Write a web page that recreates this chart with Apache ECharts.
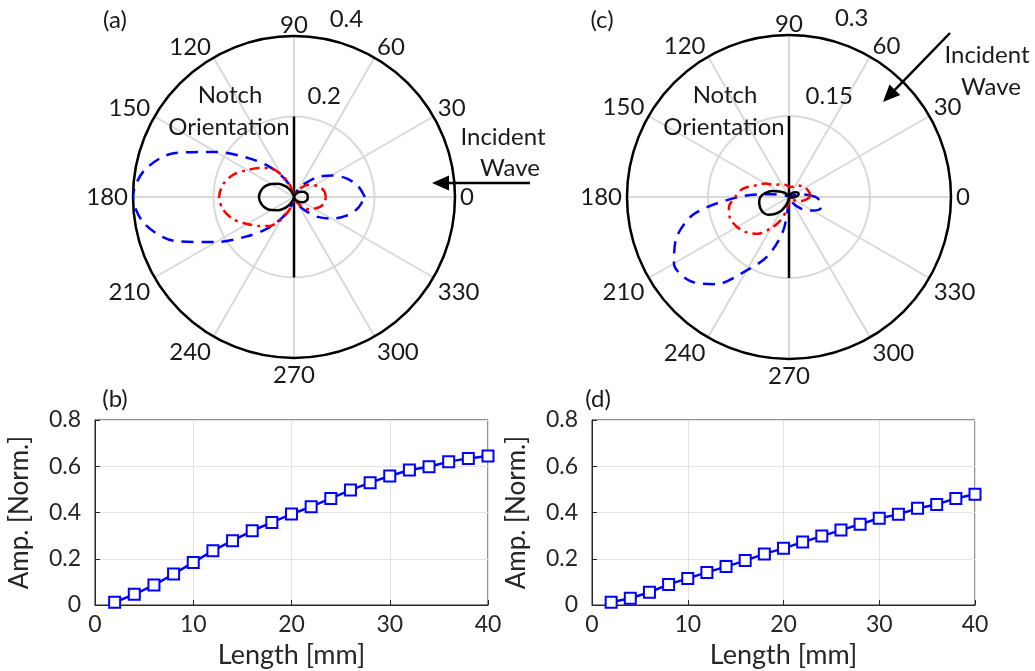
<!DOCTYPE html>
<html>
<head>
<meta charset="utf-8">
<script src="https://cdn.jsdelivr.net/npm/echarts@6/dist/echarts.min.js"></script>
<style>
html, body { margin: 0; padding: 0; background: #fff; }
#chart { width: 1035px; height: 671px; }
</style>
</head>
<body>
<div id="chart"></div>
<script>
// angles (deg) for the polar patterns
const angles = [0, 10, 20, 30, 40, 50, 60, 70, 80, 90, 100, 110, 120, 130, 140, 150, 160, 170,
  180, 190, 200, 210, 220, 230, 240, 250, 260, 270, 280, 290, 300, 310, 320, 330, 340, 350];

// (a) normal incidence
const blueA = [0.176, 0.161, 0.137, 0.107, 0.077, 0.045, 0.025, 0.008, 0.003, 0.002, 0.010, 0.032,
  0.060, 0.102, 0.152, 0.224, 0.318, 0.378, 0.400, 0.378, 0.318, 0.224, 0.152, 0.102,
  0.060, 0.032, 0.010, 0.002, 0.003, 0.008, 0.025, 0.045, 0.077, 0.107, 0.137, 0.161];
const redA = [0.079, 0.077, 0.070, 0.058, 0.047, 0.032, 0.017, 0.007, 0.002, 0.001, 0.010, 0.035,
  0.065, 0.094, 0.112, 0.134, 0.161, 0.179, 0.186, 0.179, 0.161, 0.134, 0.112, 0.094,
  0.065, 0.035, 0.010, 0.001, 0.002, 0.007, 0.017, 0.032, 0.047, 0.058, 0.070, 0.077];
const blackA = [0.034, 0.034, 0.031, 0.026, 0.020, 0.014, 0.009, 0.004, 0.001, 0.000, 0.003, 0.010,
  0.022, 0.036, 0.051, 0.065, 0.077, 0.084, 0.087, 0.084, 0.077, 0.065, 0.051, 0.036,
  0.022, 0.010, 0.003, 0.000, 0.001, 0.004, 0.009, 0.014, 0.020, 0.026, 0.031, 0.034];

// (c) oblique incidence
const blueC = [0.050, 0.028, 0.009, 0.003, 0.002, 0.001, 0.001, 0.001, 0.001, 0.001, 0.001, 0.001,
  0.001, 0.001, 0.001, 0.003, 0.008, 0.030, 0.093, 0.178, 0.222, 0.246, 0.241, 0.211,
  0.157, 0.117, 0.065, 0.009, 0.003, 0.006, 0.011, 0.022, 0.037, 0.050, 0.062, 0.060];
const redC = [0.039, 0.039, 0.037, 0.035, 0.031, 0.028, 0.024, 0.020, 0.019, 0.019, 0.022, 0.024,
  0.026, 0.030, 0.035, 0.050, 0.064, 0.087, 0.100, 0.113, 0.116, 0.111, 0.102, 0.089,
  0.067, 0.046, 0.024, 0.007, 0.002, 0.002, 0.002, 0.004, 0.007, 0.013, 0.022, 0.031];
const blackC = [0.011, 0.017, 0.019, 0.017, 0.014, 0.010, 0.006, 0.004, 0.002, 0.001, 0.001, 0.002,
  0.004, 0.008, 0.013, 0.020, 0.033, 0.044, 0.053, 0.056, 0.057, 0.056, 0.051, 0.041,
  0.030, 0.017, 0.007, 0.002, 0.001, 0.001, 0.001, 0.001, 0.001, 0.001, 0.002, 0.006];

const radTicksA = [0.2, 0.4];
const radTicksC = [0.15, 0.3];
const notchA = 0.2;
const notchC = 0.15;

// (b), (d) amplitude vs notch length
const lengths = [2, 4, 6, 8, 10, 12, 14, 16, 18, 20, 22, 24, 26, 28, 30, 32, 34, 36, 38, 40];
const ampB = [0.012, 0.046, 0.086, 0.134, 0.184, 0.235, 0.278, 0.321, 0.357, 0.393,
  0.425, 0.461, 0.497, 0.529, 0.558, 0.584, 0.598, 0.620, 0.634, 0.644];
const ampD = [0.012, 0.029, 0.055, 0.089, 0.115, 0.141, 0.166, 0.192, 0.221, 0.245,
  0.272, 0.298, 0.324, 0.349, 0.375, 0.392, 0.418, 0.435, 0.461, 0.479];

const FONT = "Lato";
const TXT = "#1a1a1a";

function loop(vals) {
  let d = angles.map((a, i) => [vals[i], a]);
  d.push([vals[0], 360]);
  return d;
}

function polarSeries(idx, blue, red, black, ticks, notch, labelShift) {
  return [
    {
      type: "line", coordinateSystem: "polar", polarIndex: idx,
      data: [[notch, 90], [notch, 270]], showSymbol: false, silent: true,
      lineStyle: { color: "#000", width: 2.5 }
    },
    {
      type: "line", coordinateSystem: "polar", polarIndex: idx, data: loop(blue),
      showSymbol: false, smooth: 0.3,
      lineStyle: { color: "#0000ff", width: 2.5, type: [12, 8] }
    },
    {
      type: "line", coordinateSystem: "polar", polarIndex: idx, data: loop(red),
      showSymbol: false, smooth: 0.3,
      lineStyle: { color: "#ff0000", width: 2.5, type: [10, 5, 3, 5] }
    },
    {
      type: "line", coordinateSystem: "polar", polarIndex: idx, data: loop(black),
      showSymbol: false, smooth: 0.3,
      lineStyle: { color: "#000", width: 2.5 }
    },
    {
      // radius tick labels
      type: "scatter", coordinateSystem: "polar", polarIndex: idx,
      data: ticks.map(t => [t, 74]), symbolSize: 0, silent: true,
      itemStyle: { opacity: 1 },
      label: {
        show: true, position: "top", distance: 11, offset: [labelShift, 0],
        formatter: p => String(p.value[0]),
        fontSize: 24, color: TXT, fontFamily: FONT, opacity: 1
      }
    }
  ];
}

function angleAxis(idx) {
  const lab = { fontSize: 24, color: TXT, fontFamily: FONT };
  return {
    polarIndex: idx, type: "value", min: 0, max: 360, interval: 30,
    startAngle: 0, clockwise: false,
    axisLine: { lineStyle: { color: "#000", width: 2.5 } },
    axisTick: { show: false },
    axisLabel: {
      margin: 5,
      // upper-half labels sit a little closer to the rim
      formatter: v => (v > 0 && v < 180) ? "{u|" + v + "}" : "{n|" + v + "}",
      rich: { u: Object.assign({ lineHeight: 12 }, lab), n: Object.assign({}, lab) }
    },
    splitLine: { lineStyle: { color: "#d9d9d9", width: 2 } }
  };
}

function radiusAxis(idx, max) {
  return {
    polarIndex: idx, type: "value", min: 0, max: max, interval: max / 2,
    axisLine: { show: false }, axisTick: { show: false }, axisLabel: { show: false },
    splitLine: { lineStyle: { color: "#d9d9d9", width: 2 } }
  };
}

function cartAxes(idx) {
  const axisCommon = {
    gridIndex: idx,
    axisLine: { lineStyle: { color: "#262626", width: 1 } },
    axisTick: { inside: true, length: 5, lineStyle: { color: "#262626" } },
    axisLabel: { fontSize: 23, color: "#262626", fontFamily: FONT },
    splitLine: { lineStyle: { color: "#e3e3e3", width: 1 } },
    nameTextStyle: { fontSize: 26, color: "#262626", fontFamily: FONT }
  };
  return {
    x: Object.assign({}, axisCommon, {
      type: "value", min: 0, max: 40, interval: 10,
      name: "Length [mm]", nameLocation: "middle", nameGap: 37,
      nameTextStyle: Object.assign({}, axisCommon.nameTextStyle, { fontSize: 27 })
    }),
    y: Object.assign({}, axisCommon, {
      type: "value", min: 0, max: 0.8, interval: 0.2,
      name: "Amp. [Norm.]", nameLocation: "middle", nameGap: 62,
      axisLabel: Object.assign({}, axisCommon.axisLabel, { margin: 14 })
    })
  };
}

function ampSeries(idx, vals) {
  return {
    type: "line", xAxisIndex: idx, yAxisIndex: idx,
    data: lengths.map((x, i) => [x, vals[i]]),
    symbol: "rect", symbolSize: 11,
    itemStyle: { color: "#fff", borderColor: "#0000ff", borderWidth: 2 },
    lineStyle: { color: "#0000ff", width: 2.5 }
  };
}

function txt(x, y, s, size) {
  return {
    type: "text", x: x, y: y, z: 100,
    style: { text: s, fontSize: size || 24, fontFamily: FONT, fill: TXT, align: "center", verticalAlign: "middle" }
  };
}

function arrow(x1, y1, x2, y2) {
  // shaft from (x1,y1) to tip (x2,y2)
  const dx = x2 - x1, dy = y2 - y1, L = Math.hypot(dx, dy);
  const ux = dx / L, uy = dy / L, hl = 17, hw = 7.5;
  const bx = x2 - ux * hl, by = y2 - uy * hl;
  return [
    { type: "line", z: 100, shape: { x1: x1, y1: y1, x2: bx, y2: by }, style: { stroke: "#000", lineWidth: 2.5 } },
    {
      type: "polygon", z: 100,
      shape: { points: [[x2, y2], [bx - uy * hw, by + ux * hw], [bx + uy * hw, by - ux * hw]] },
      style: { fill: "#000" }
    }
  ];
}

const axB = cartAxes(0), axD = cartAxes(1);

const option = {
  animation: false,
  backgroundColor: "#fff",
  polar: [
    { center: [294, 197], radius: 161 },
    { center: [789, 197], radius: 162 }
  ],
  angleAxis: [angleAxis(0), angleAxis(1)],
  radiusAxis: [radiusAxis(0, 0.4), radiusAxis(1, 0.3)],
  grid: [
    { left: 95, top: 420, width: 393, height: 185, show: true, borderColor: "#262626", borderWidth: 1 },
    { left: 592, top: 420, width: 383, height: 185, show: true, borderColor: "#262626", borderWidth: 1 }
  ],
  xAxis: [axB.x, axD.x],
  yAxis: [axB.y, axD.y],
  series: [].concat(
    polarSeries(0, blueA, redA, blackA, radTicksA, notchA, 8),
    polarSeries(1, blueC, redC, blackC, radTicksC, notchC, 18),
    [ampSeries(0, ampB), ampSeries(1, ampD)]
  ),
  graphic: [].concat(
    [
      txt(115, 20, "(a)", 24), txt(602, 20, "(c)", 24),
      txt(115, 399, "(b)", 24), txt(598, 399, "(d)", 24),
      txt(230, 95, "Notch"), txt(229, 127, "Orientation"),
      txt(725, 95, "Notch"), txt(724, 127, "Orientation"),
      txt(503, 137, "Incident"), txt(510, 168, "Wave"),
      txt(987, 55, "Incident"), txt(991, 87, "Wave")
    ],
    arrow(530, 183, 432, 183),
    arrow(950, 33, 883, 102)
  )
};

const chart = echarts.init(document.getElementById("chart"));
chart.setOption(option);
</script>
</body>
</html>
